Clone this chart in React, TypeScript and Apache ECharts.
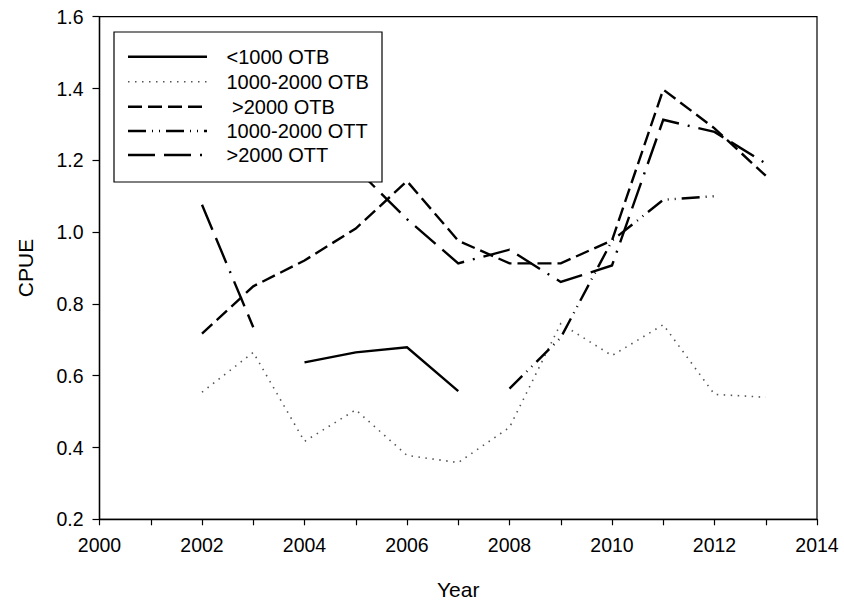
import React, { useEffect, useRef } from "react";
import * as echarts from "echarts";

const years = [2002, 2003, 2004, 2005, 2006, 2007, 2008, 2009, 2010, 2011, 2012, 2013];
const otbUnder1000 = [null, null, 0.637, 0.665, 0.679, 0.557, null, null, null, null, null, null];
const otb1000to2000 = [0.554, 0.665, 0.417, 0.505, 0.378, 0.358, 0.456, 0.745, 0.656, 0.742, 0.548, 0.54];
const otbOver2000 = [0.717, 0.849, 0.921, 1.01, 1.142, 0.976, 0.913, 0.913, 0.977, 1.397, 1.289, 1.157];
const ott1000to2000 = [null, null, null, null, null, null, 0.564, 0.706, 0.976, 1.09, 1.1, null];
const ottOver2000 = [1.076, 0.735, null, 1.178, 1.036, 0.913, 0.951, 0.861, 0.907, 1.313, 1.279, 1.191];
const seriesNames = ["<1000 OTB", "1000-2000 OTB", ">2000 OTB", "1000-2000 OTT", ">2000 OTT"];
const xTicks = [2000, 2002, 2004, 2006, 2008, 2010, 2012, 2014];

const FONT = "Liberation Sans";

// line looks, shared by plot lines and legend samples
const styles = [
    { color: "#000", width: 2.4, type: "solid" as any },
    { color: "#555", width: 1.6, type: [1.5, 5.5] },
    { color: "#000", width: 2.4, type: [14, 6] },
    { color: "#000", width: 2.4, type: [18, 6, 1, 6, 1, 6] },
    { color: "#000", width: 2.4, type: [27, 9, 27, 9, 2, 9] },
];

const App: React.FC = () => {
    const chartRef = useRef<HTMLDivElement>(null);

    useEffect(() => {
        if (!chartRef.current) return;
        const chart = echarts.init(chartRef.current, undefined, { renderer: "svg" });
        const allData = [otbUnder1000, otb1000to2000, otbOver2000, ott1000to2000, ottOver2000];

        const legendRows = [56.7, 81.7, 106.7, 131, 155];
        const legendGraphics: any[] = [
            {
                type: "rect",
                z: 100,
                shape: { x: 114, y: 32, width: 268, height: 150 },
                style: { fill: "#fff", stroke: "#000", lineWidth: 1.2 },
            },
        ];
        seriesNames.forEach((name, i) => {
            const s = styles[i];
            legendGraphics.push({
                type: "line",
                z: 101,
                shape: { x1: 128, y1: legendRows[i], x2: 207, y2: legendRows[i] },
                style: {
                    stroke: s.color,
                    lineWidth: s.width,
                    lineDash: Array.isArray(s.type) ? s.type : null,
                    lineCap: "butt",
                },
            });
            legendGraphics.push({
                type: "text",
                z: 101,
                x: name === ">2000 OTB" ? 232 : 226.5,
                y: legendRows[i],
                style: {
                    text: name,
                    fill: "#000",
                    font: `20px "${FONT}"`,
                    verticalAlign: "middle",
                },
            });
        });

        chart.setOption({
            animation: false,
            grid: {
                left: 99.5,
                right: 27,
                top: 16.7,
                bottom: 87.7,
                show: true,
                borderColor: "#000",
                borderWidth: 1.2,
            },
            xAxis: {
                type: "value",
                min: 2000,
                max: 2014,
                interval: 1,
                name: "Year",
                nameLocation: "middle",
                nameGap: 60,
                nameTextStyle: { fontFamily: FONT, fontSize: 21, color: "#000" },
                axisLine: { lineStyle: { color: "#000", width: 1.4 } },
                axisTick: { length: 6, lineStyle: { color: "#000", width: 1.2 } },
                axisLabel: {
                    margin: 16,
                    fontFamily: FONT,
                    fontSize: 19.5,
                    color: "#000",
                    formatter: (v: number) => (xTicks.includes(v) ? String(v) : ""),
                },
                splitLine: { show: false },
            },
            yAxis: {
                type: "value",
                min: 0.2,
                max: 1.6,
                interval: 0.2,
                name: "CPUE",
                nameLocation: "middle",
                nameGap: 64,
                nameTextStyle: { fontFamily: FONT, fontSize: 21, color: "#000" },
                axisLine: { lineStyle: { color: "#000", width: 1.4 } },
                axisTick: { length: 7, lineStyle: { color: "#000", width: 1.2 } },
                axisLabel: {
                    margin: 16,
                    fontFamily: FONT,
                    fontSize: 19.5,
                    color: "#000",
                    formatter: (v: number) => v.toFixed(1),
                },
                splitLine: { show: false },
            },
            series: seriesNames.map((name, i) => ({
                name,
                type: "line",
                symbol: "none",
                silent: true,
                connectNulls: false,
                lineStyle: { ...styles[i], cap: "butt", join: "miter" },
                data: years.map((y, j) => [y, allData[i][j] == null ? "-" : allData[i][j]]),
            })),
            graphic: legendGraphics,
        });

        return () => {
            chart.dispose();
        };
    }, []);

    return (
        <div
            ref={chartRef}
            style={{ position: "absolute", left: 0, top: 0, width: 844, height: 607, background: "#fff" }}
        />
    );
};

export default App;
